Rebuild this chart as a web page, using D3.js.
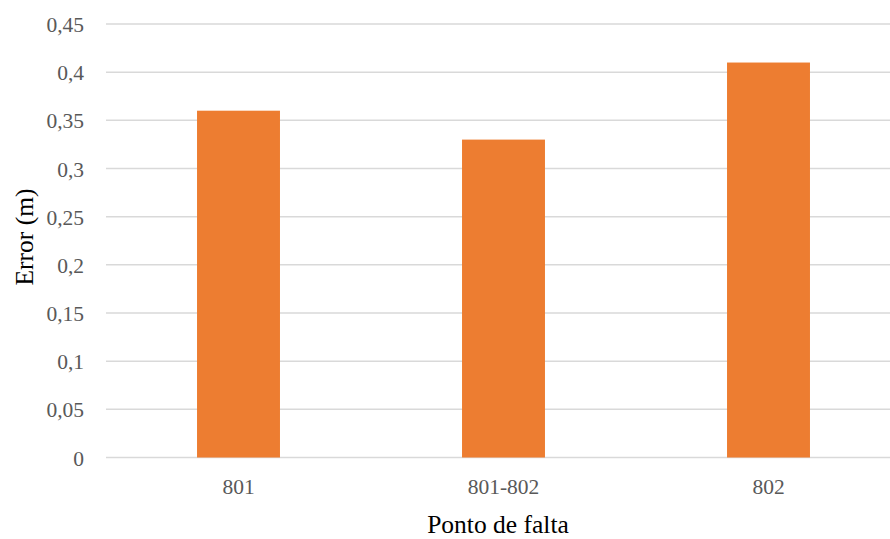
<!DOCTYPE html>
<html>
<head>
<meta charset="utf-8">
<script src="https://cdn.jsdelivr.net/npm/d3@7"></script>
<style>
  html, body { margin: 0; padding: 0; background: #fff; }
  svg { display: block; }
</style>
</head>
<body>
<svg id="chart" width="890" height="539"></svg>
<script>
// Fault-location error per fault point
const categories = ["801", "801-802", "802"];
const errors = [0.36, 0.33, 0.41];
const yTicks = [0, 0.05, 0.1, 0.15, 0.2, 0.25, 0.3, 0.35, 0.4, 0.45];

const svg = d3.select("#chart");
const W = 890, H = 539;
const plotLeft = 106, plotRight = 901, plotTop = 24, plotBottom = 457.5;

const x = d3.scaleBand().domain(categories).range([plotLeft, plotRight])
  .paddingInner(0.687).paddingOuter(0.3435);
const y = d3.scaleLinear().domain([0, 0.45]).range([plotBottom, plotTop]);

const fmt = d => d3.format("")(d).replace(".", ",");
const font = "'Liberation Serif', 'Times New Roman', serif";

// Horizontal gridlines
svg.append("g")
  .selectAll("line")
  .data(yTicks)
  .join("line")
  .attr("x1", plotLeft).attr("x2", W)
  .attr("y1", d => y(d)).attr("y2", d => y(d))
  .attr("stroke", "#d9d9d9")
  .attr("stroke-width", 1.5);

// Bars
svg.append("g")
  .selectAll("rect")
  .data(categories)
  .join("rect")
  .attr("x", d => x(d))
  .attr("width", x.bandwidth())
  .attr("y", (d, i) => y(errors[i]))
  .attr("height", (d, i) => y(0) - y(errors[i]))
  .attr("fill", "#ED7D31");

// Y axis labels
const yAxis = svg.append("g")
  .attr("transform", `translate(${plotLeft - 22},0)`)
  .call(d3.axisLeft(y).tickValues(yTicks).tickFormat(fmt).tickSize(0).tickPadding(0));
yAxis.attr("font-family", font);
yAxis.select(".domain").remove();
yAxis.selectAll("text")
  .attr("font-family", font)
  .attr("font-size", 21.5)
  .attr("fill", "#595959")
  .attr("dy", "0.35em");

// X axis labels
const xAxis = svg.append("g")
  .attr("transform", `translate(0,${plotBottom})`)
  .call(d3.axisBottom(x).tickSize(0).tickPadding(0));
xAxis.attr("font-family", font);
xAxis.select(".domain").remove();
xAxis.selectAll("text")
  .attr("font-family", font)
  .attr("font-size", 21.5)
  .attr("fill", "#595959")
  .attr("dy", null)
  .attr("y", 36);

// Axis titles
svg.append("text")
  .attr("x", 498)
  .attr("y", 533)
  .attr("text-anchor", "middle")
  .attr("font-family", font)
  .attr("font-size", 25.5)
  .attr("fill", "#000")
  .text("Ponto de falta");

svg.append("text")
  .attr("transform", "translate(33,237) rotate(-90)")
  .attr("text-anchor", "middle")
  .attr("font-family", font)
  .attr("font-size", 25.5)
  .attr("fill", "#000")
  .text("Error (m)");
</script>
</body>
</html>
